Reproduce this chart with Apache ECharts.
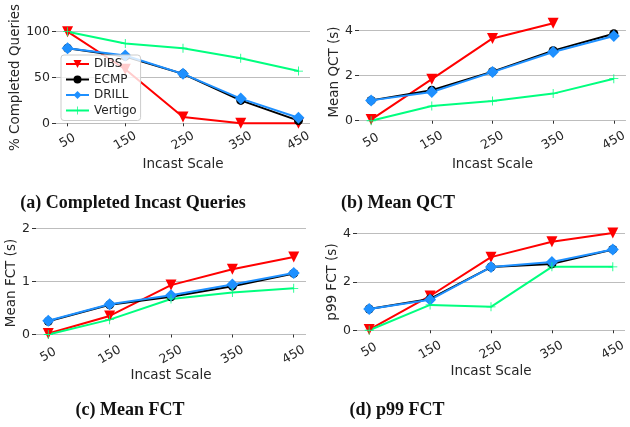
<!DOCTYPE html>
<html>
<head>
<meta charset="utf-8">
<script src="https://cdn.jsdelivr.net/npm/echarts@6/dist/echarts.min.js"></script>
<style>
    html, body { margin: 0; padding: 0; background: #fff; }
    #main { width: 630px; height: 427px; }
</style>
</head>
<body>
<div id="main"></div>
<script>
var scales = [50, 150, 250, 350, 450];
var schemes = ['DIBS', 'ECMP', 'DRILL', 'Vertigo'];

// (a) completed incast queries, %
var completedDIBS = [100, 59, 7, 0, 0];
var completedECMP = [82, 73, 54, 25, 3];
var completedDRILL = [82, 74, 54, 27, 6];
var completedVertigo = [100, 87, 82, 71, 57];

// (b) mean QCT, s
var qctDIBS = [0.05, 1.84, 3.64, 4.31, null];
var qctECMP = [0.9, 1.35, 2.17, 3.1, 3.85];
var qctDRILL = [0.9, 1.27, 2.15, 3.04, 3.75];
var qctVertigo = [0, 0.65, 0.87, 1.2, 1.86];

// (c) mean FCT, s
var fctDIBS = [0.02, 0.35, 0.93, 1.23, 1.46];
var fctECMP = [0.25, 0.56, 0.71, 0.91, 1.15];
var fctDRILL = [0.26, 0.57, 0.74, 0.94, 1.16];
var fctVertigo = [0, 0.28, 0.67, 0.79, 0.87];

// (d) p99 FCT, s
var p99DIBS = [0.03, 1.42, 3.03, 3.67, 4.03];
var p99ECMP = [0.88, 1.3, 2.62, 2.75, 3.35];
var p99DRILL = [0.88, 1.26, 2.62, 2.83, 3.35];
var p99Vertigo = [0, 1.05, 0.97, 2.63, 2.63];

var yTicksA = [0, 50, 100];
var yTicksB = [0, 2, 4];
var yTicksC = [0, 1, 2];
var yTicksD = [0, 2, 4];

var plusPath = 'path://M-0.09,-1H0.09V-0.09H1V0.09H0.09V1H-0.09V0.09H-1V-0.09H-0.09Z';
var looks = {
    DIBS: {color: '#ff0000', symbol: 'triangle', size: 11, rotate: 180},
    ECMP: {color: '#000000', symbol: 'circle', size: 9, rotate: 0},
    DRILL: {color: '#1e90ff', symbol: 'diamond', size: 12, rotate: 0},
    Vertigo: {color: '#00ff7f', symbol: plusPath, size: 9, rotate: 0}
};

var textColor = '#262626';
var sansFont = 'DejaVu Sans';

function pairs(values) {
    return scales.map(function (s, i) {
        return values[i] === null ? null : [s, values[i]];
    }).filter(function (p) { return p !== null; });
}

function makeSeries(idx, valueSets) {
    return schemes.map(function (name, k) {
        var lk = looks[name];
        return {
            type: 'line',
            name: name,
            xAxisIndex: idx,
            yAxisIndex: idx,
            data: pairs(valueSets[k]),
            symbol: lk.symbol,
            symbolSize: lk.size,
            symbolRotate: lk.rotate,
            showAllSymbol: true,
            clip: false,
            color: lk.color,
            lineStyle: {width: 2, color: lk.color},
            itemStyle: {color: lk.color},
            emphasis: {disabled: true},
            animation: false
        };
    });
}

function makeXAxis(idx, nameGap, labelMargin) {
    return {
        type: 'value',
        gridIndex: idx,
        min: 30,
        max: 470,
        name: 'Incast Scale',
        nameLocation: 'middle',
        nameGap: nameGap,
        nameTextStyle: {fontFamily: sansFont, fontSize: 13.5, color: textColor},
        axisLine: {show: false},
        axisTick: {show: true, length: 3, customValues: scales, lineStyle: {color: '#333'}},
        axisLabel: {
            customValues: scales,
            rotate: 30,
            align: 'center',
            verticalAlign: 'middle',
            margin: labelMargin,
            fontFamily: sansFont,
            fontSize: 12.5,
            color: textColor
        },
        splitLine: {show: false}
    };
}

function makeYAxis(idx, name, min, max, ticks, nameGap) {
    return {
        type: 'value',
        gridIndex: idx,
        min: min,
        max: max,
        name: name,
        nameLocation: 'middle',
        nameGap: nameGap,
        nameTextStyle: {fontFamily: sansFont, fontSize: 13.5, color: textColor},
        axisLine: {show: false},
        axisTick: {show: true, length: 4, customValues: ticks, lineStyle: {color: '#333'}},
        axisLabel: {
            customValues: ticks,
            margin: 6,
            fontFamily: sansFont,
            fontSize: 12.5,
            color: textColor
        },
        splitLine: {show: true, lineStyle: {color: '#bdbdbd', width: 1}}
    };
}

function caption(text, cx, cy) {
    return {
        type: 'text',
        x: cx,
        y: cy,
        style: {
            text: text,
            align: 'center',
            verticalAlign: 'middle',
            fontFamily: 'Liberation Serif',
            fontWeight: 'bold',
            fontSize: 18,
            fill: '#111'
        }
    };
}

var series = []
    .concat(makeSeries(0, [completedDIBS, completedECMP, completedDRILL, completedVertigo]))
    .concat(makeSeries(1, [qctDIBS, qctECMP, qctDRILL, qctVertigo]))
    .concat(makeSeries(2, [fctDIBS, fctECMP, fctDRILL, fctVertigo]))
    .concat(makeSeries(3, [p99DIBS, p99ECMP, p99DRILL, p99Vertigo]));

var option = {
    backgroundColor: '#fff',
    animation: false,
    grid: [
        {left: 56, right: 320, top: 27.1, bottom: 299.1},
        {left: 359, right: 2, top: 18.4, bottom: 301.4},
        {left: 36, right: 324, top: 223, bottom: 84},
        {left: 357, right: 5, top: 227.7, bottom: 90.7}
    ],
    xAxis: [
        makeXAxis(0, 30, 13),
        makeXAxis(1, 32, 15),
        makeXAxis(2, 18, 12),
        makeXAxis(3, 28, 14)
    ],
    yAxis: [
        makeYAxis(0, '% Completed Queries', -5, 105, yTicksA, 34),
        makeYAxis(1, 'Mean QCT (s)', -0.2155, 4.526, yTicksB, 14),
        makeYAxis(2, 'Mean FCT (s)', -0.16, 2.1, yTicksC, 15),
        makeYAxis(3, 'p99 FCT (s)', -0.25, 4.25, yTicksD, 13)
    ],
    legend: {
        data: schemes,
        orient: 'vertical',
        left: 61,
        top: 55,
        itemWidth: 23,
        itemHeight: 10,
        itemGap: 3.5,
        padding: [3, 4, 4, 4],
        backgroundColor: 'rgba(255,255,255,0.8)',
        borderColor: '#cccccc',
        borderWidth: 1,
        borderRadius: 3,
        textStyle: {fontFamily: sansFont, fontSize: 12, color: textColor},
        selectedMode: false
    },
    graphic: [
        caption('(a) Completed Incast Queries', 133, 203),
        caption('(b) Mean QCT', 398, 203),
        caption('(c) Mean FCT', 130, 410),
        caption('(d) p99 FCT', 397, 410)
    ],
    series: series
};

var myChart = echarts.init(document.getElementById('main'), null, {renderer: 'canvas'});
myChart.setOption(option);
</script>
</body>
</html>
